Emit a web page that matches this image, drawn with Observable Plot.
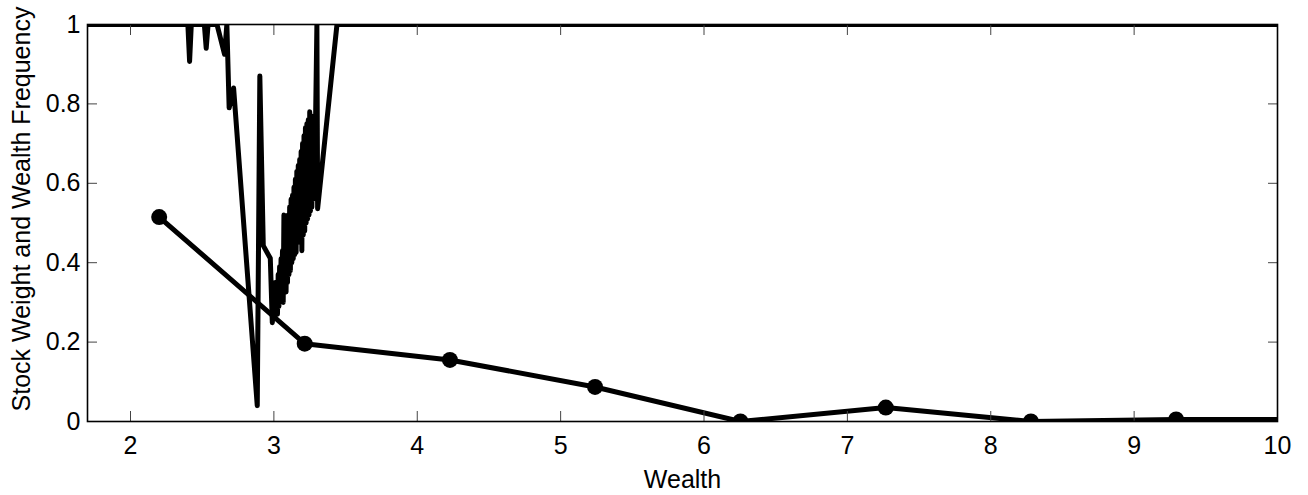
<!DOCTYPE html>
<html>
<head>
<meta charset="utf-8">
<script src="https://cdn.jsdelivr.net/npm/d3@7"></script>
<script src="https://cdn.jsdelivr.net/npm/@observablehq/plot@0.6"></script>
<style>
  html, body { margin: 0; padding: 0; background: #fff; }
</style>
</head>
<body>
<div id="chart"></div>
<script>
// Optimal stock weight as a function of wealth (noisy grid solution)
const stockWealth = [
  1.70, 2.400, 2.412, 2.424, 2.515, 2.528, 2.541, 2.603, 2.656, 2.672,
  2.688, 2.719, 2.884, 2.902, 2.926, 2.975, 2.989,
  3.000, 3.005, 3.010, 3.015, 3.020, 3.025, 3.030, 3.035, 3.040, 3.045,
  3.050, 3.055, 3.060, 3.065, 3.070, 3.075, 3.080, 3.085, 3.090, 3.095,
  3.100, 3.105, 3.110, 3.115, 3.120, 3.125, 3.130, 3.135, 3.140, 3.145,
  3.150, 3.155, 3.160, 3.165, 3.170, 3.175, 3.180, 3.185, 3.190, 3.195,
  3.200, 3.205, 3.210, 3.215, 3.220, 3.225, 3.230, 3.235, 3.240, 3.245,
  3.250, 3.255, 3.260, 3.265, 3.270, 3.275, 3.280, 3.285, 3.290,
  3.300, 3.305, 3.440, 10.0
];
const stockWeight = [
  1.00, 1.00, 0.907, 1.00, 1.00, 0.94, 1.00, 1.00, 0.925, 1.00,
  0.79, 0.84, 0.04, 0.87, 0.443, 0.411, 0.249,
  0.30, 0.26, 0.35, 0.28, 0.34, 0.27, 0.37, 0.29, 0.39, 0.30,
  0.41, 0.31, 0.43, 0.30, 0.52, 0.33, 0.47, 0.326, 0.50, 0.35,
  0.52, 0.37, 0.54, 0.38, 0.56, 0.40, 0.57, 0.41, 0.59, 0.42,
  0.61, 0.426, 0.63, 0.45, 0.645, 0.47, 0.66, 0.45, 0.68, 0.43,
  0.70, 0.47, 0.72, 0.48, 0.74, 0.50, 0.75, 0.51, 0.76, 0.52,
  0.78, 0.53, 0.77, 0.54, 0.75, 0.56, 0.73, 0.58, 0.74,
  1.00, 0.536, 1.00, 1.00
];

// Wealth frequency (histogram centres)
const freqWealth = [2.20, 3.215, 4.228, 5.24, 6.254, 7.268, 8.28, 9.293, 10.305];
const freqValue  = [0.515, 0.196, 0.155, 0.087, 0.0, 0.035, 0.0, 0.005, 0.005];

const xTicks = [2, 3, 4, 5, 6, 7, 8, 9, 10];
const yTicks = [0, 0.2, 0.4, 0.6, 0.8, 1];
const xTitle = "Wealth";
const yTitle = "Stock Weight and Wealth Frequency";

const stock = stockWealth.map((w, i) => ({wealth: w, weight: stockWeight[i]}));
const freq = freqWealth.map((w, i) => ({wealth: w, value: freqValue[i]}));

const lineStyle = {
  stroke: "black",
  strokeWidth: 5,
  strokeLinejoin: "round",
  strokeLinecap: "round",
  clip: true
};
const tickStyle = {stroke: "#444", strokeWidth: 1};
const noText = () => "";

const chart = Plot.plot({
  width: 1308,
  height: 495,
  marginLeft: 87,
  marginRight: 31,
  marginTop: 24,
  marginBottom: 74,
  style: {
    fontFamily: "'Liberation Sans', Arial, Helvetica, sans-serif",
    fontSize: "25px",
    background: "white",
    color: "black"
  },
  x: {domain: [1.7, 10]},
  y: {domain: [0, 1]},
  marks: [
    Plot.line(stock, {x: "wealth", y: "weight", ...lineStyle}),
    Plot.line(freq, {x: "wealth", y: "value", ...lineStyle}),
    Plot.dot(freq, {x: "wealth", y: "value", r: 8, fill: "black", clip: true}),

    // tick labels and x title
    Plot.axisX({ticks: xTicks, tickSize: 0, tickPadding: 15, tickFormat: d => String(d),
      label: xTitle, labelAnchor: "center", labelOffset: 66, labelArrow: "none"}),
    Plot.axisY({ticks: yTicks, tickSize: 0, tickPadding: 7, tickFormat: d => String(d), label: null}),

    // y title, rotated along the left edge
    Plot.text([yTitle], {frameAnchor: "left", text: d => d, rotate: -90,
      textAnchor: "middle", lineAnchor: "middle", dx: -66, dy: -14, fill: "black"}),

    // inward tick marks on all four sides
    Plot.axisX({ticks: xTicks, tickSize: -10, tickFormat: noText, label: null, ...tickStyle}),
    Plot.axisX({anchor: "top", ticks: xTicks, tickSize: -10, tickFormat: noText, label: null, ...tickStyle}),
    Plot.axisY({ticks: yTicks, tickSize: -10, tickFormat: noText, label: null, ...tickStyle}),
    Plot.axisY({anchor: "right", ticks: yTicks, tickSize: -10, tickFormat: noText, label: null, ...tickStyle}),

    Plot.frame({stroke: "black", strokeWidth: 1.6})
  ]
});

document.getElementById("chart").appendChild(chart);
</script>
</body>
</html>
